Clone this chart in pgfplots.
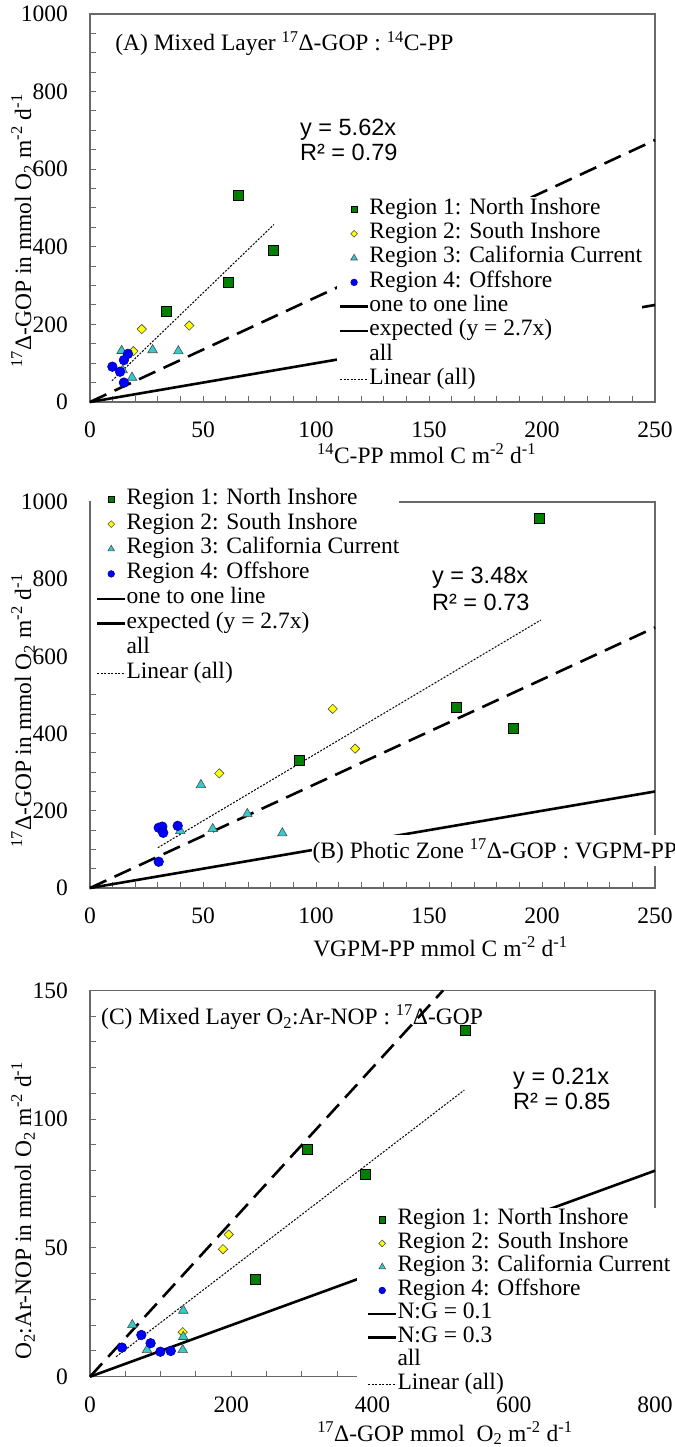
\documentclass[border=0pt]{standalone}
\usepackage{fontspec}
\setmainfont{Liberation Serif}
\newfontfamily\arialf{Liberation Sans}
\usepackage{pgfplots}
\pgfplotsset{compat=1.18}
\definecolor{rgreen}{RGB}{0,128,0}
\definecolor{ryellow}{RGB}{255,255,0}
\definecolor{rcyan}{RGB}{51,204,204}
\definecolor{rblue}{RGB}{0,0,255}
\definecolor{axgray}{RGB}{105,105,105}
\newcommand{\fs}{\fontsize{23.5bp}{28bp}\selectfont}
\newcommand{\su}[1]{\textsuperscript{#1}}
\newcommand{\sub}[1]{\textsubscript{#1}}
\def\legoff{3bp}
\pgfplotsset{
  panel/.style={
    scale only axis, width=565bp, xmin=0, ymin=0,
    axis line style={axgray, line width=1.3bp},
    tick style={axgray, line width=1bp},
    major tick length=6bp, minor tick length=6bp,
    tick align=inside, xtick pos=left, ytick pos=left,
    ticklabel style={font=\fs},
    /pgf/number format/assume math mode=true,
    /pgf/number format/set thousands separator={},
    yticklabel style={inner sep=0pt, anchor=east, xshift=-22bp},
    xticklabel style={inner sep=0pt, anchor=north, yshift=-20bp},
    clip=false,
    legend cell align=left,
    legend style={font=\fs, fill=white, draw=none, inner xsep=0bp, inner ysep=0bp, row sep=0bp, anchor=north west},
  },
  legmark/.style={legend image code/.code={\path[draw=none,fill=none] (0bp,0bp) -- (\legoff+28bp,0bp); \draw[##1, mark size=#1] plot coordinates {(\legoff+14bp,0bp)};}},
  legline/.style={legend image code/.code={\path[draw=none,fill=none] (0bp,0bp); \draw[##1] (\legoff,0bp) -- (\legoff+28bp,0bp);}},
  legempty/.style={legend image code/.code={\path[draw=none,fill=none] (0bp,0bp) -- (\legoff+28bp,0bp);}},
  r1/.style={only marks, mark=square*, mark size=5bp, mark options={fill=rgreen, draw=black, line width=0.6bp}, legmark=3.2bp},
  r2/.style={only marks, mark=square*, mark size=3.3bp, mark options={rotate=45, fill=ryellow, draw=black!70, line width=0.6bp}, legmark=2.4bp},
  r3/.style={only marks, mark=triangle*, mark size=5.5bp, mark options={fill=rcyan, draw=black!70, line width=0.6bp}, legmark=3.8bp},
  r4/.style={only marks, mark=*, mark size=4.8bp, mark options={fill=rblue, draw=rblue!60!black, line width=0.6bp}, legmark=3.3bp},
  solidline/.style={black, line width=2.6bp},
  dashline/.style={black, line width=2.6bp, dash pattern=on 18bp off 9bp},
  fitline/.style={black, line width=1bp, dash pattern=on 2bp off 1.5bp},
}
\begin{document}
\begin{tikzpicture}
\useasboundingbox (0,0) rectangle (675bp,1447bp);
% ---------------- Panel A ----------------
\def\legoff{3bp}
\begin{axis}[panel, at={(90bp,1045bp)}, anchor=south west, height=388bp,
  xmax=250, ymax=1000, xtick={0,50,...,250}, ytick={0,200,...,1000},
  minor x tick num=4, minor y tick num=3,
  legend style={at={(axis description cs:0.437,0.528)}, nodes={inner sep=0pt, text height=17bp, text depth=7.3bp}}]
\addplot[solidline, forget plot] coordinates {(0,0) (250,250)};
\addplot[dashline, forget plot] coordinates {(0,0) (250,675)};
\addplot[fitline, forget plot] coordinates {(9.7,54.5) (81.4,457.5)};
\addplot[r1] coordinates {(65.5,533) (81.1,392) (61.2,308) (33.9,234)};
\addlegendentry{Region 1: North Inshore}
\addplot[r2] coordinates {(22.9,188) (43.9,197) (19.2,131)};
\addlegendentry{Region 2: South Inshore}
\addplot[r3] coordinates {(14.0,132) (27.7,134) (39.1,131) (18.6,63) (14.5,82)};
\addlegendentry{Region 3: California Current}
\addplot[r4] coordinates {(9.9,91) (15.0,108) (16.8,124) (13.3,78) (15.0,50)};
\addlegendentry{Region 4: Offshore}
\addlegendimage{solidline, legline}
\addlegendentry{one to one line}
\addlegendimage{solidline, legline}
\addlegendentry{expected (y = 2.7x)}
\addlegendimage{legempty}
\addlegendentry{all}
\addlegendimage{fitline, legline}
\addlegendentry{Linear (all)}
\node[anchor=base west, inner sep=0pt, font=\fs] at (axis cs:11.1,904.6) {(A) Mixed Layer \su{17}Δ-GOP : \su{14}C-PP};
\node[anchor=base west, inner sep=0pt, font=\arialf\fs] at (axis cs:92.9,685.6) {y = 5.62x};
\node[anchor=base west, inner sep=0pt, font=\arialf\fs] at (axis cs:92.9,621.1) {R² = 0.79};
\node[anchor=base west, inner sep=0pt, font=\fs] at (axis cs:100.4,-159.8) {\su{14}C-PP mmol C m\su{-2} d\su{-1}};
\node[rotate=90, inner sep=0pt, font=\fs] at (axis cs:-29.6,440.7) {\su{17}Δ-GOP in mmol O\sub{2} m\su{-2} d\su{-1}};
\end{axis}
% ---------------- Panel B ----------------
\def\legoff{6bp}
\begin{axis}[panel, at={(90bp,559bp)}, anchor=south west, height=386bp,
  xmax=250, ymax=1000, xtick={0,50,...,250}, ytick={0,200,...,1000},
  minor x tick num=4, minor y tick num=3,
  legend style={at={(axis description cs:0.0018,1.040)}, nodes={inner sep=0pt, text height=17.4bp, text depth=7.5bp}}]
\addplot[solidline, forget plot] coordinates {(0,0) (250,250)};
\addplot[dashline, forget plot] coordinates {(0,0) (250,675)};
\addplot[fitline, forget plot] coordinates {(30,104.4) (199.5,694.3)};
\addplot[r1] coordinates {(198.8,958) (162.2,468) (187.3,414) (92.5,331)};
\addlegendentry{Region 1: North Inshore}
\addplot[r2] coordinates {(107.4,464) (117.3,361) (57.2,297)};
\addlegendentry{Region 2: South Inshore}
\addplot[r3] coordinates {(49.1,267) (69.6,192) (54.3,153) (39.95,148) (85.1,142)};
\addlegendentry{Region 3: California Current}
\addplot[r4] coordinates {(30.4,156) (32,159) (32.4,143) (38.8,161) (30.4,68)};
\addlegendentry{Region 4: Offshore}
\addlegendimage{solidline, legline}
\addlegendentry{one to one line}
\addlegendimage{solidline, legline}
\addlegendentry{expected (y = 2.7x)}
\addlegendimage{legempty}
\addlegendentry{all}
\addlegendimage{fitline, legline}
\addlegendentry{Linear (all)}
\node[anchor=base west, fill=white, inner xsep=0.5bp, inner ysep=3bp, font=\fs] at (axis cs:98.2,77.7) {(B) Photic Zone \su{17}Δ-GOP : VGPM-PP};
\node[anchor=base west, inner sep=0pt, font=\arialf\fs] at (axis cs:151.3,787.6) {y = 3.48x};
\node[anchor=base west, inner sep=0pt, font=\arialf\fs] at (axis cs:151.3,717.6) {R² = 0.73};
\node[anchor=base west, inner sep=0pt, font=\fs] at (axis cs:98.7,-176.2) {VGPM-PP mmol C m\su{-2} d\su{-1}};
\node[rotate=90, inner sep=0pt, font=\fs] at (axis cs:-29.6,458.5) {\su{17}Δ-GOP in mmol O\sub{2} m\su{-2} d\su{-1}};
\end{axis}
% ---------------- Panel C ----------------
\def\legoff{11bp}
\begin{axis}[panel, at={(90bp,70.3bp)}, anchor=south west, height=386.3bp,
  xmax=800, ymax=150, xtick={0,200,...,800}, ytick={0,50,100,150},
  minor x tick num=3, minor y tick num=4,
  legend style={at={(axis description cs:0.4726,0.4367)}, nodes={inner sep=0pt, text height=16.5bp, text depth=7.0bp}}]
\addplot[solidline, forget plot] coordinates {(0,0) (800,80)};
\addplot[dashline, forget plot] coordinates {(0,0) (500,150)};
\addplot[fitline, forget plot] coordinates {(37,7.77) (530,111.3)};
\addplot[r1] coordinates {(531,134.5) (307.5,88.4) (390.5,78.4) (234.2,38.0)};
\addlegendentry{Region 1: North Inshore}
\addplot[r2] coordinates {(196.4,55.2) (188.3,49.5) (131.3,17.3)};
\addlegendentry{Region 2: South Inshore}
\addplot[r3] coordinates {(59.9,20.1) (132.1,25.7) (132.1,15.5) (80.8,10.4) (131.3,10.4)};
\addlegendentry{Region 3: California Current}
\addplot[r4] coordinates {(45.3,11.3) (72.7,16.2) (85.8,13.0) (99.6,9.7) (114.3,10.0)};
\addlegendentry{Region 4: Offshore}
\addlegendimage{solidline, legline}
\addlegendentry{N:G = 0.1}
\addlegendimage{solidline, legline}
\addlegendentry{N:G = 0.3}
\addlegendimage{legempty}
\addlegendentry{all}
\addlegendimage{fitline, legline}
\addlegendentry{Linear (all)}
\node[anchor=base west, inner sep=0pt, font=\fs] at (axis cs:15.6,136.7) {(C) Mixed Layer O\sub{2}:Ar-NOP : \su{17}Δ-GOP};
\node[anchor=base west, inner sep=0pt, font=\arialf\fs] at (axis cs:599,113.4) {y = 0.21x};
\node[anchor=base west, inner sep=0pt, font=\arialf\fs] at (axis cs:599,103.7) {R² = 0.85};
\node[anchor=base west, inner sep=0pt, font=\fs] at (axis cs:321.5,-25) {\su{17}Δ-GOP mmol~ O\sub{2} m\su{-2} d\su{-1}};
\node[rotate=90, inner sep=0pt, font=\fs] at (axis cs:-94.9,64.4) {O\sub{2}:Ar-NOP in mmol O\sub{2} m\su{-2} d\su{-1}};
\end{axis}
\end{tikzpicture}
\end{document}
